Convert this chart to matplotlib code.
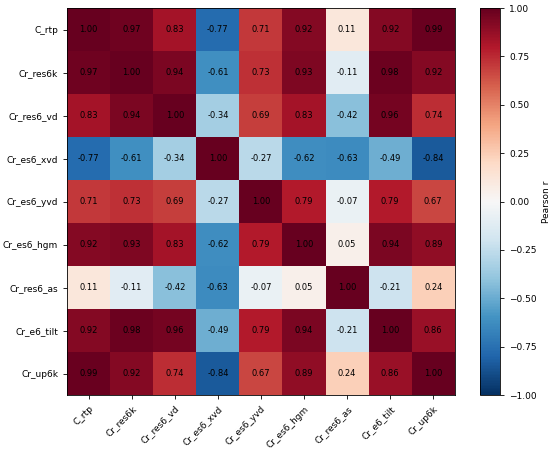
import numpy as np
import matplotlib
matplotlib.use("Agg")
import matplotlib.pyplot as plt

labels = ["C_rtp", "Cr_res6k", "Cr_res6_vd", "Cr_es6_xvd", "Cr_es6_yvd",
          "Cr_es6_hgm", "Cr_res6_as", "Cr_e6_tilt", "Cr_up6k"]

row_rtp = [1.00, 0.97, 0.83, -0.77, 0.71, 0.92, 0.11, 0.92, 0.99]
row_res6k = [0.97, 1.00, 0.94, -0.61, 0.73, 0.93, -0.11, 0.98, 0.92]
row_res6_vd = [0.83, 0.94, 1.00, -0.34, 0.69, 0.83, -0.42, 0.96, 0.74]
row_es6_xvd = [-0.77, -0.61, -0.34, 1.00, -0.27, -0.62, -0.63, -0.49, -0.84]
row_es6_yvd = [0.71, 0.73, 0.69, -0.27, 1.00, 0.79, -0.07, 0.79, 0.67]
row_es6_hgm = [0.92, 0.93, 0.83, -0.62, 0.79, 1.00, 0.05, 0.94, 0.89]
row_res6_as = [0.11, -0.11, -0.42, -0.63, -0.07, 0.05, 1.00, -0.21, 0.24]
row_e6_tilt = [0.92, 0.98, 0.96, -0.49, 0.79, 0.94, -0.21, 1.00, 0.86]
row_up6k = [0.99, 0.92, 0.74, -0.84, 0.67, 0.89, 0.24, 0.86, 1.00]

corr = np.array([row_rtp, row_res6k, row_res6_vd, row_es6_xvd, row_es6_yvd,
                 row_es6_hgm, row_res6_as, row_e6_tilt, row_up6k])

fig = plt.figure(figsize=(5.5, 4.5), dpi=100)
ax = fig.add_axes([0.122, 0.122, 0.705, 0.86])
cax = fig.add_axes([0.873, 0.122, 0.036, 0.86])

im = ax.imshow(corr, cmap="RdBu_r", vmin=-1, vmax=1, aspect="auto")
n = len(labels)
ax.set_xticks(range(n))
ax.set_yticks(range(n))
ax.set_xticklabels(labels, rotation=45, ha="right", rotation_mode="anchor", fontsize=6.5)
ax.set_yticklabels(labels, fontsize=6.5)
ax.tick_params(length=3, width=0.6)
for s in ax.spines.values():
    s.set_linewidth(0.6)

for i in range(n):
    for j in range(n):
        ax.text(j, i, f"{corr[i, j]:.2f}", ha="center", va="center", fontsize=6, color="black")

cb = fig.colorbar(im, cax=cax)
cb.set_label("Pearson r", fontsize=6.5)
cb.ax.tick_params(labelsize=6.5, length=3, width=0.6)
cb.outline.set_linewidth(0.6)

fig.savefig("out.png", dpi=100)
